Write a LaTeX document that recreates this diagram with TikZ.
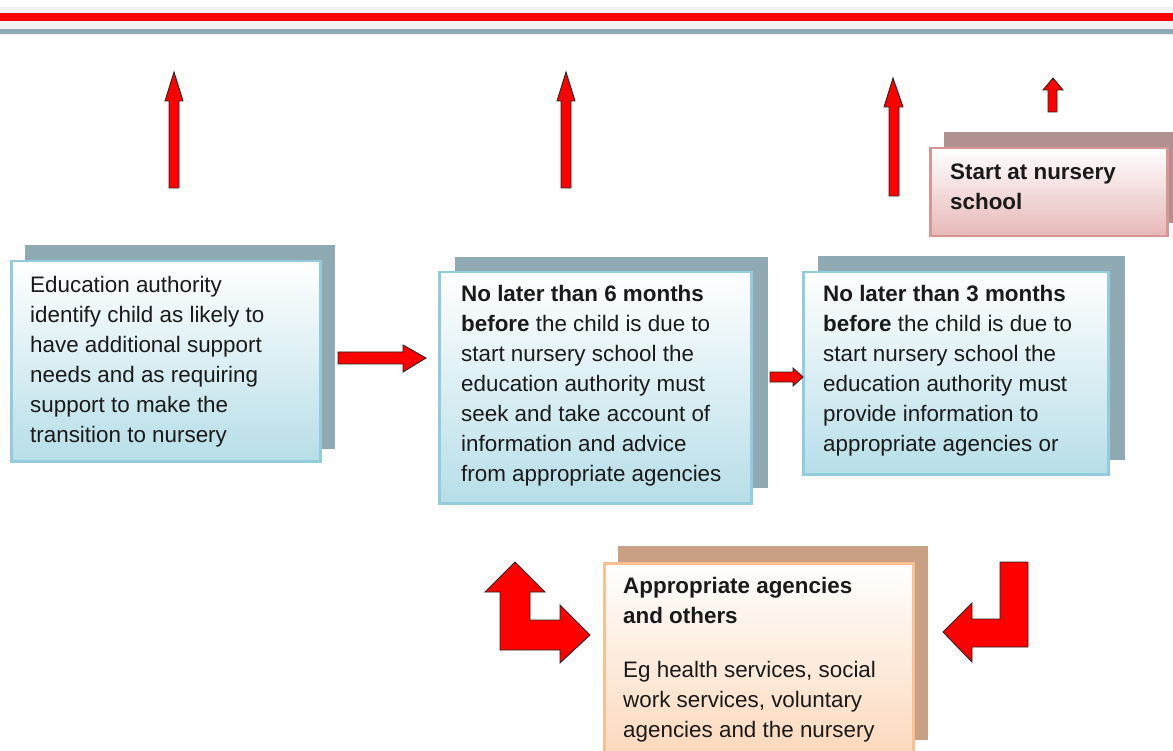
\documentclass[tikz,border=0pt]{standalone}
\usepackage{fontspec}
\setmainfont{Liberation Sans}
\definecolor{shblue}{HTML}{8FAAB3}
\definecolor{bdblue}{HTML}{93CDDD}
\definecolor{fblue}{HTML}{B7DEE8}
\definecolor{shpink}{HTML}{B09090}
\definecolor{bdpink}{HTML}{D99594}
\definecolor{fpink}{HTML}{E6B8B7}
\definecolor{shorange}{HTML}{C9A083}
\definecolor{bdorange}{HTML}{FAC090}
\definecolor{forange}{HTML}{FBD4B4}
\definecolor{bandgray}{HTML}{F2F2F2}
\definecolor{txtcol}{HTML}{1A1A1A}
\tikzset{
  boxbase/.style={rectangle, anchor=north west, inner sep=0pt, outer sep=0pt, line width=2.5pt},
  bluebox/.style={boxbase, draw=bdblue, top color=white, bottom color=fblue},
  pinkbox/.style={boxbase, draw=bdpink, top color=white, bottom color=fpink},
  orangebox/.style={boxbase, draw=bdorange, top color=white, bottom color=forange},
  txt/.style={inner sep=0pt, anchor=base west, text=txtcol, font=\fontsize{22.4}{30}\selectfont},
  blockarrow/.style={fill=red, draw=black!85, line width=0.9pt, line join=miter}
}
\begin{document}
\begin{tikzpicture}[x=1pt,y=-1pt]
\useasboundingbox (0,0) rectangle (1173,751);
% top band
\fill[bandgray] (0,7) rectangle (1173,35);
\fill[red] (0,13) rectangle (1173,21);
\fill[shblue] (0,29) rectangle (1173,34);

% up arrows
\draw[blockarrow] (169,188) -- (169,101) -- (165,101) -- (174,72) -- (183,101) -- (179,101) -- (179,188) -- cycle;
\draw[blockarrow] (561,188) -- (561,101) -- (557,101) -- (566,72) -- (575,101) -- (571,101) -- (571,188) -- cycle;
\draw[blockarrow] (889,196) -- (889,107) -- (884,107) -- (893,78) -- (903,107) -- (899,107) -- (899,196) -- cycle;
\draw[blockarrow] (1048,112) -- (1048,90) -- (1043,90) -- (1053,78) -- (1063,90) -- (1057,90) -- (1057,112) -- cycle;

% box 1
\fill[shblue] (25,245) rectangle (335,449);
\node[bluebox, minimum width=309pt, minimum height=200pt] (b1) at (11.25,261.25) {};
\node[txt] (t1) at (30,293) {\parbox[t]{290pt}{\raggedright Education authority\\identify child as likely to\\have additional support\\needs and as requiring\\support to make the\\transition to nursery}};

% box 2
\fill[shblue] (455,257) rectangle (768,488);
\node[bluebox, minimum width=312pt, minimum height=231pt] (b2) at (439.25,272.25) {};
\node[txt] (t2) at (461,302) {\parbox[t]{290pt}{\raggedright \textbf{No later than 6 months}\\\textbf{before} the child is due to\\start nursery school the\\education authority must\\seek and take account of\\information and advice\\from appropriate agencies}};

% box 3
\fill[shblue] (818,256) rectangle (1125,460);
\node[bluebox, minimum width=305pt, minimum height=202pt] (b3) at (803.25,272.25) {};
\node[txt] (t3) at (823,302) {\parbox[t]{290pt}{\raggedright \textbf{No later than 3 months}\\\textbf{before} the child is due to\\start nursery school the\\education authority must\\provide information to\\appropriate agencies or}};

% box 4
\fill[shpink] (944,132) rectangle (1175,223);
\node[pinkbox, minimum width=237pt, minimum height=88pt] (b4) at (930.25,148.25) {};
\node[txt] (t4) at (950,180) {\parbox[t]{220pt}{\raggedright \textbf{Start at nursery}\\\textbf{school}}};

% box 5
\fill[shorange] (618,546) rectangle (928,740);
\node[orangebox, minimum width=309pt, minimum height=215pt] (b5) at (604.25,563.25) {};
\node[txt] (t5) at (623,593) {\parbox[t]{290pt}{\raggedright \textbf{Appropriate agencies}\\\textbf{and others}\\[24pt]Eg health services, social\\work services, voluntary\\agencies and the nursery}};

% right arrows
\draw[blockarrow] (338,352) -- (403,352) -- (403,345) -- (426,358) -- (403,372) -- (403,364) -- (338,364) -- cycle;
\draw[blockarrow] (770,372) -- (793,372) -- (793,368) -- (803,377) -- (793,386) -- (793,382) -- (770,382) -- cycle;

% bent arrows
\draw[blockarrow] (515,562) -- (545,592) -- (530,592) -- (530,620) -- (560,620) -- (560,605) -- (590,635) -- (560,663) -- (560,650) -- (500,650) -- (500,592) -- (485,592) -- cycle;
\draw[blockarrow] (1000,562) -- (1028,562) -- (1028,647) -- (972,647) -- (972,662) -- (943,632) -- (972,603) -- (972,619) -- (1000,619) -- cycle;
\end{tikzpicture}
\end{document}
